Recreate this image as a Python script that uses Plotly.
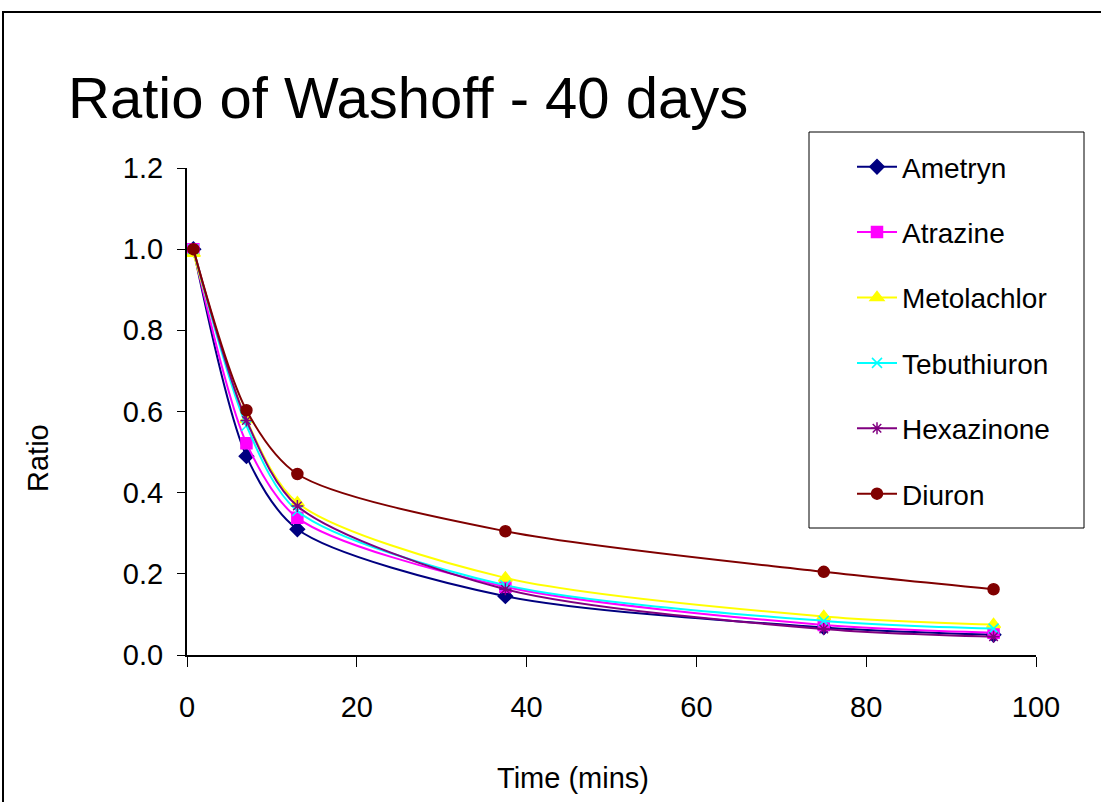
import plotly.graph_objects as go

time_mins = [0.75, 7, 13, 37.5, 75, 95]
ametryn = [1.0, 0.49, 0.31, 0.145, 0.068, 0.05]
atrazine = [1.0, 0.522, 0.338, 0.168, 0.074, 0.055]
metolachlor = [0.99, 0.58, 0.375, 0.19, 0.095, 0.075]
tebuthiuron = [1.0, 0.565, 0.355, 0.172, 0.084, 0.065]
hexazinone = [1.0, 0.578, 0.367, 0.162, 0.064, 0.045]
diuron = [1.0, 0.603, 0.446, 0.305, 0.205, 0.162]

series = [
    ("Ametryn", ametryn, "#000080", "diamond", 11),
    ("Atrazine", atrazine, "#FF00FF", "square", 11),
    ("Metolachlor", metolachlor, "#FFFF00", "triangle-up", 12),
    ("Tebuthiuron", tebuthiuron, "#00FFFF", "x-thin", 10),
    ("Hexazinone", hexazinone, "#800080", "asterisk", 10),
    ("Diuron", diuron, "#800000", "circle", 11),
]

FONT = "Liberation Sans, Arial, sans-serif"
W, H = 1101, 802
L, R, T, B = 187, 65, 168, 147
pw, ph = W - L - R, H - T - B


def px(x):
    return (x - L) / pw


def py(y):
    return (H - B - y) / ph


fig = go.Figure()
for i, (name, vals, color, sym, size) in enumerate(series):
    fig.add_trace(go.Scatter(
        x=time_mins, y=vals, name=name, mode="lines+markers",
        line=dict(color=color, width=2, shape="spline", smoothing=0.8),
        marker=dict(symbol=sym, size=size, color=color,
                    line=dict(color=color, width=1.5)),
        legendgroup=f"g{i}",
    ))

fig.update_layout(
    width=W, height=H,
    margin=dict(l=L, r=R, t=T, b=B, pad=0),
    paper_bgcolor="white", plot_bgcolor="white",
    font=dict(family=FONT, size=28, color="black"),
    showlegend=True,
    legend=dict(
        x=px(852), y=py(142), xanchor="left", yanchor="top",
        bgcolor="rgba(0,0,0,0)", borderwidth=0,
        font=dict(family=FONT, size=28, color="black"),
        tracegroupgap=26, itemwidth=40,
    ),
    xaxis=dict(
        range=[0, 100], tickvals=[0, 20, 40, 60, 80, 100],
        showgrid=False, zeroline=False, showline=True,
        linecolor="black", linewidth=2, ticks="outside", ticklen=10,
        tickwidth=1, tickcolor="black", ticklabelstandoff=15,
        tickfont=dict(family=FONT, size=29),
    ),
    yaxis=dict(
        range=[0, 1.2], tickvals=[0, 0.2, 0.4, 0.6, 0.8, 1.0, 1.2],
        tickformat=".1f",
        showgrid=False, zeroline=False, showline=True,
        linecolor="black", linewidth=2, ticks="outside", ticklen=8,
        tickwidth=1, tickcolor="black", ticklabelstandoff=8,
        tickfont=dict(family=FONT, size=29),
    ),
    shapes=[
        dict(type="rect", xref="paper", yref="paper",
             x0=px(3), x1=px(1110), y0=py(812), y1=py(12),
             line=dict(color="black", width=2), layer="below"),
        dict(type="rect", xref="paper", yref="paper",
             x0=px(809), x1=px(1084), y0=py(528), y1=py(132),
             line=dict(color="black", width=1), layer="below"),
    ],
    annotations=[
        dict(text="Ratio of Washoff - 40 days", xref="paper", yref="paper",
             x=px(66), y=py(97), xanchor="left", yanchor="middle",
             showarrow=False, font=dict(family=FONT, size=58, color="black")),
        dict(text="Ratio", xref="paper", yref="paper",
             x=px(38), y=py(458), xanchor="center", yanchor="middle",
             textangle=-90, showarrow=False,
             font=dict(family=FONT, size=29, color="black")),
        dict(text="Time (mins)", xref="paper", yref="paper",
             x=px(573), y=py(778), xanchor="center", yanchor="middle",
             showarrow=False, font=dict(family=FONT, size=29, color="black")),
    ],
)

fig.write_html("out.html")
